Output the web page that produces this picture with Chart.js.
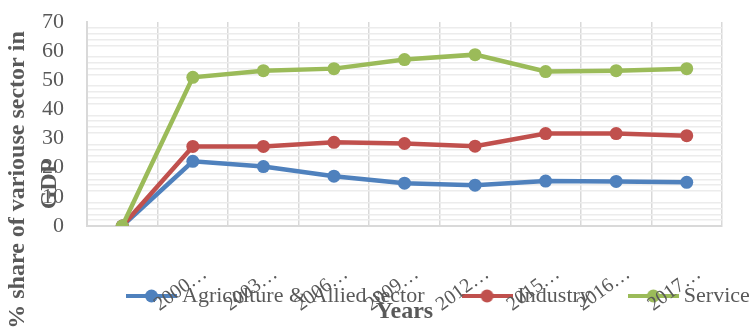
<!DOCTYPE html>
<html>
<head>
<meta charset="utf-8">
<script src="https://cdn.jsdelivr.net/npm/chart.js@4/dist/chart.umd.min.js"></script>
<style>
  html, body { margin: 0; padding: 0; background: #fff; }
</style>
</head>
<body>
<canvas id="chart" width="750" height="330"></canvas>
<script>
const years = ["", "2000…", "2003…", "2006…", "2009…", "2012…", "2015…", "2016…", "2017…"];
const agriculture = [0, 22.2, 20.4, 17.1, 14.7, 14.0, 15.4, 15.3, 15.0];
const industry = [0, 27.3, 27.3, 28.7, 28.3, 27.4, 31.7, 31.7, 31.0];
const service = [0, 51.0, 53.3, 54.0, 57.1, 58.8, 53.0, 53.3, 54.0];
const yTickLabels = [0, 10, 20, 30, 40, 50, 60, 70];
const yTitleLines = ["% share of variouse sector in", "GDP"];
const xTitle = "Years";

const SERIF = "'Liberation Serif', 'Times New Roman', serif";
const TEXT = "#595959";

// small line+dot swatch for the legend, like the office-style legend key
function makeKey(color) {
    const c = document.createElement("canvas");
    c.width = 51;
    c.height = 14;
    const g = c.getContext("2d");
    g.strokeStyle = color;
    g.lineWidth = 4;
    g.beginPath();
    g.moveTo(0, 7);
    g.lineTo(51, 7);
    g.stroke();
    g.fillStyle = color;
    g.beginPath();
    g.arc(25.5, 7, 6.5, 0, Math.PI * 2);
    g.fill();
    return c;
}

function series(label, data, color, order) {
    return {
        label, data, order,
        borderColor: color,
        backgroundColor: color,
        pointBackgroundColor: color,
        pointBorderWidth: 0,
        pointRadius: 6.5,
        borderWidth: 4.5,
        tension: 0,
    };
}

// legend takes no room in the layout; it is laid over the tick labels afterwards
const legendOverlay = {
    id: "legendOverlay",
    beforeLayout(chart) {
        const lg = chart.legend;
        if (lg && !lg._patched) {
            const fit = lg.fit.bind(lg);
            lg.fit = function () {
                fit();
                this._fullHeight = this.height;
                this.height = 0;
            };
            lg._patched = true;
        }
    },
    afterLayout(chart) {
        const lg = chart.legend;
        lg.height = lg._fullHeight;
        lg.left = 89;
        lg.right = chart.width + 80;
        lg.width = lg.right - lg.left;
        lg.top = chart.chartArea.bottom + 16;
        lg.bottom = chart.height;
    },
};

const yTitle = {
    id: "yTitle",
    afterDraw(chart) {
        const ctx = chart.ctx;
        ctx.save();
        ctx.fillStyle = TEXT;
        ctx.font = "bold 24px " + SERIF;
        ctx.textAlign = "center";
        ctx.textBaseline = "middle";
        const xs = [18, 50];
        const ys = [180, 184];
        yTitleLines.forEach((line, i) => {
            ctx.save();
            ctx.translate(xs[i], ys[i]);
            ctx.rotate(-Math.PI / 2);
            ctx.fillText(line, 0, 0);
            ctx.restore();
        });
        ctx.restore();
    },
};

new Chart(document.getElementById("chart"), {
    type: "line",
    data: {
        labels: years,
        datasets: [
            series("Agriculture & Allied sector", agriculture, "#4F81BD", 3),
            series("Industry", industry, "#C0504D", 2),
            series("Service", service, "#9BBB59", 1),
        ],
    },
    options: {
        responsive: false,
        animation: false,
        layout: { padding: { top: 22, right: 28, left: 0, bottom: 0 } },
        plugins: {
            tooltip: { enabled: false },
            legend: {
                position: "bottom",
                align: "start",
                labels: {
                    usePointStyle: true,
                    pointStyleWidth: 39,
                    padding: 43,
                    color: TEXT,
                    font: { family: SERIF, size: 22 },
                    generateLabels: (chart) => chart.data.datasets.map((ds, i) => ({
                        text: ds.label,
                        pointStyle: makeKey(ds.borderColor),
                        fontColor: TEXT,
                        lineWidth: 0,
                        hidden: false,
                        datasetIndex: i,
                    })),
                },
            },
        },
        scales: {
            x: {
                offset: true,
                grid: { offset: true, color: "#d9d9d9", lineWidth: 1.5, drawTicks: false },
                border: { color: "#d9d9d9", width: 2 },
                ticks: {
                    autoSkip: false,
                    maxRotation: 36,
                    minRotation: 36,
                    padding: 36,
                    labelOffset: 12,
                    color: TEXT,
                    font: { family: SERIF, size: 20 },
                },
                title: {
                    display: true,
                    text: xTitle,
                    color: TEXT,
                    font: { family: SERIF, size: 24, weight: "bold" },
                    padding: { top: 0, bottom: 4 },
                },
                afterFit: (scale) => {
                    scale.height = 104;
                    scale.paddingLeft = 0;
                    scale.paddingRight = 0;
                },
            },
            y: {
                min: 0,
                max: 70,
                grid: {
                    drawTicks: false,
                    lineWidth: 1.5,
                    color: (c) => (c.tick && c.tick.value % 10 === 0 && c.tick.value !== 0 ? "rgba(0,0,0,0)" : "#ececec"),
                },
                border: { color: "#d9d9d9", width: 2 },
                ticks: {
                    stepSize: 2,
                    autoSkip: false,
                    padding: 23,
                    color: TEXT,
                    font: { family: SERIF, size: 22 },
                    callback: (v) => (yTickLabels.includes(v) ? String(v) : ""),
                },
                afterFit: (scale) => {
                    scale.width = 87;
                    scale.paddingTop = 0;
                    scale.paddingBottom = 0;
                },
            },
        },
    },
    plugins: [legendOverlay, yTitle],
});
</script>
</body>
</html>
